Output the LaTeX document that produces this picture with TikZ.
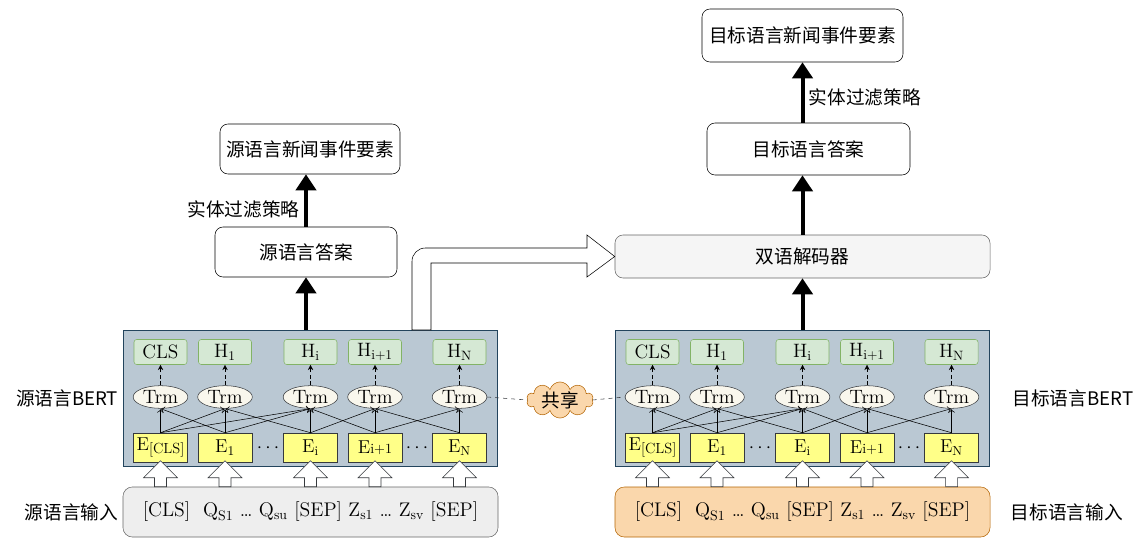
\documentclass[tikz,border=0pt]{standalone}
\usepackage{fontspec}
\newfontfamily\cjk{Noto Sans CJK SC}
\usetikzlibrary{positioning,arrows.meta,shapes.geometric,shapes.symbols,calc}

\definecolor{bertfill}{HTML}{BAC8D3}
\definecolor{bertdraw}{HTML}{23445D}
\definecolor{hfill}{HTML}{D5E8D4}
\definecolor{hdraw}{HTML}{82B366}
\definecolor{trmfill}{HTML}{F9F7ED}
\definecolor{efill}{HTML}{FFFF88}
\definecolor{darkline}{HTML}{36393D}
\definecolor{linfill}{HTML}{EEEEEE}
\definecolor{lindraw}{HTML}{666666}
\definecolor{rinfill}{HTML}{FAD7AC}
\definecolor{rindraw}{HTML}{B46504}
\definecolor{decfill}{HTML}{F5F5F5}

% hollow block arrow from the input box up to an embedding box
\newcommand{\hollowup}[2]{%
  \draw[fill=white,draw=darkline] ($(#1.south |- #2.north)+(-6,0)$) -- ++(0,-9) -- ++(-11,0) -- ++(17,-17) -- ++(17,17) -- ++(-11,0) -- ++(0,9) -- cycle;}

\begin{document}
\begin{tikzpicture}[x=0.75pt,y=-0.75pt,
		cn/.style={font=\cjk\fontsize{14}{16}\selectfont},
		rm/.style={font=\fontsize{14.5}{16}\selectfont},
		bertbox/.style={draw=bertdraw,fill=bertfill,minimum width=280.5pt,minimum height=102pt},
		hbox/.style={rm,draw=hdraw,fill=hfill,rounded corners=2pt,minimum width=39.75pt,minimum height=18.75pt,inner sep=0pt},
		trm/.style={rm,ellipse,draw=darkline,fill=trmfill,minimum width=41pt,minimum height=17pt,inner sep=0pt},
		ebox/.style={font=\fontsize{14}{16}\selectfont,draw=darkline,fill=efill,minimum width=40.5pt,minimum height=21.75pt,inner sep=0pt},
		inbox/.style={font=\fontsize{14.8}{16}\selectfont,rounded corners=7pt,minimum width=281.25pt,minimum height=37.5pt},
		answer box/.style={cn,draw,rounded corners=6pt,fill=white},
		thick arrow/.style={line width=3pt,-{Triangle[length=12pt,width=15pt]}}]
		\useasboundingbox (0,0) rectangle (1137,538);
		
		% two BERT encoders
		\foreach \s/\dx/\inf/\ind in {l/0/linfill/lindraw, r/492/rinfill/rindraw}{
		\begin{scope}[shift={(\dx,0)}]
		\node[bertbox] (\s bert) at (310,398) {};
		\node[hbox] (\s hcls) at (160.5,352) {CLS};
		\node[hbox] (\s h1) at (225,352) {H$_1$};
		\node[hbox] (\s hi) at (310.5,352) {H$_\mathrm{i}$};
		\node[hbox] (\s hj) at (375,352) {H$_\mathrm{i+1}$};
		\node[hbox] (\s hn) at (459.5,352) {H$_\mathrm{N}$};
		\node[trm] (\s tcls) at (160.5,397) {Trm};
		\node[trm] (\s t1) at (225,397) {Trm};
		\node[trm] (\s ti) at (310.5,397) {Trm};
		\node[trm] (\s tj) at (375,397) {Trm};
		\node[trm] (\s tn) at (459.5,397) {Trm};
		\node[ebox] (\s ecls) at (160.5,447.5) {E\raisebox{-0.35ex}{\fontsize{11}{11}\selectfont[CLS]}};
		\node[ebox] (\s e1) at (225,447.5) {E$_1$};
		\node[ebox] (\s ei) at (310.5,447.5) {E$_\mathrm{i}$};
		\node[ebox] (\s ej) at (375,447.5) {E{\fontsize{10.5}{10}\selectfont i+1}};
		\node[ebox] (\s en) at (459.5,447.5) {E$_\mathrm{N}$};
		\node[font=\fontsize{14}{14}\selectfont] (\s dots1) at (268,448) {$\cdots$};
		\node[font=\fontsize{14}{14}\selectfont] (\s dots2) at (417,448) {$\cdots$};
		\node[inbox,draw=\ind,fill=\inf] (\s in) at (310.5,512) {[CLS]\ \ Q$_\mathrm{S1}$ \dots\ Q$_\mathrm{su}$ [SEP] Z$_\mathrm{s1}$ \dots\ Z$_\mathrm{sv}$ [SEP]};
		\end{scope}
		
		\foreach \a in {cls,1,i,j,n}
		  \draw[densely dashed,-{Stealth[length=4pt,width=4pt]}] (\s t\a.north) -- (\s h\a.south);
		\foreach \a/\b in {cls/cls,cls/1,cls/i,1/cls,1/1,1/i,i/1,i/i,i/j,j/i,j/j,j/n,n/j,n/n}
		  \draw[->,shorten >=0.5pt] (\s e\a.north) -- (\s t\b.south);
		\foreach \a in {cls,1,i,j,n}
		  \hollowup{\s e\a}{\s in};
		}
		
		\node[cn,left=0pt of lbert] {源语言BERT};
		\node[cn,right=14pt of rbert] {目标语言BERT};
		\node[cn,left=0pt of lin] {源语言输入};
		\node[cn,right=12pt of rin] {目标语言输入};
		
		% shared parameters
		\node[cn,cloud,cloud puffs=10,aspect=2.2,draw=rindraw,fill=rinfill,inner sep=0pt,minimum width=50pt,minimum height=25pt] (share) at (560,400) {共享};
		\draw[dashed,draw=darkline] (ltn.east) -- (share.west);
		\draw[dashed,draw=darkline] (share.east) -- (rtcls.west);
		
		% source side
		\node[answer box,minimum width=136.5pt,minimum height=37.5pt] (lans) at (306,252) {源语言答案};
		\node[answer box,minimum width=135pt,minimum height=37.5pt] (lelem) at (310,149) {源语言新闻事件要素};
		\draw[thick arrow] (lbert.north -| lans.south) -- (lans.south);
		\draw[thick arrow] (lans.north) -- (lelem.south -| lans.north) node[cn,midway,left,yshift=-7pt] {实体过滤策略};
		
		% target side
		\node[cn,draw=lindraw,fill=decfill,rounded corners=6pt,minimum width=281.25pt,minimum height=32.25pt] (rdec) at (802.5,256.5) {双语解码器};
		\node[answer box,minimum width=152.25pt,minimum height=39pt] (rans) at (808.5,149) {目标语言答案};
		\node[answer box,minimum width=150.75pt,minimum height=39.75pt] (relem) at (802.5,35.5) {目标语言新闻事件要素};
		\draw[thick arrow] (rbert.north -| rdec.south) -- (rdec.south);
		\draw[thick arrow] (rdec.north) -- (rans.south -| rdec.north);
		\draw[thick arrow] (rans.north -| relem.south) -- (relem.south) node[cn,midway,right,yshift=-3.5pt] {实体过滤策略};
		
		% source encoding passed to the decoder
		\draw[fill=white] (431,330) -- (431,263) -- (587,263) -- (587,277) -- (rdec.west) -- (587,235) -- (587,248) [rounded corners=10pt] -- (412,248) [sharp corners] -- (412,330) -- cycle;
\end{tikzpicture}
\end{document}
